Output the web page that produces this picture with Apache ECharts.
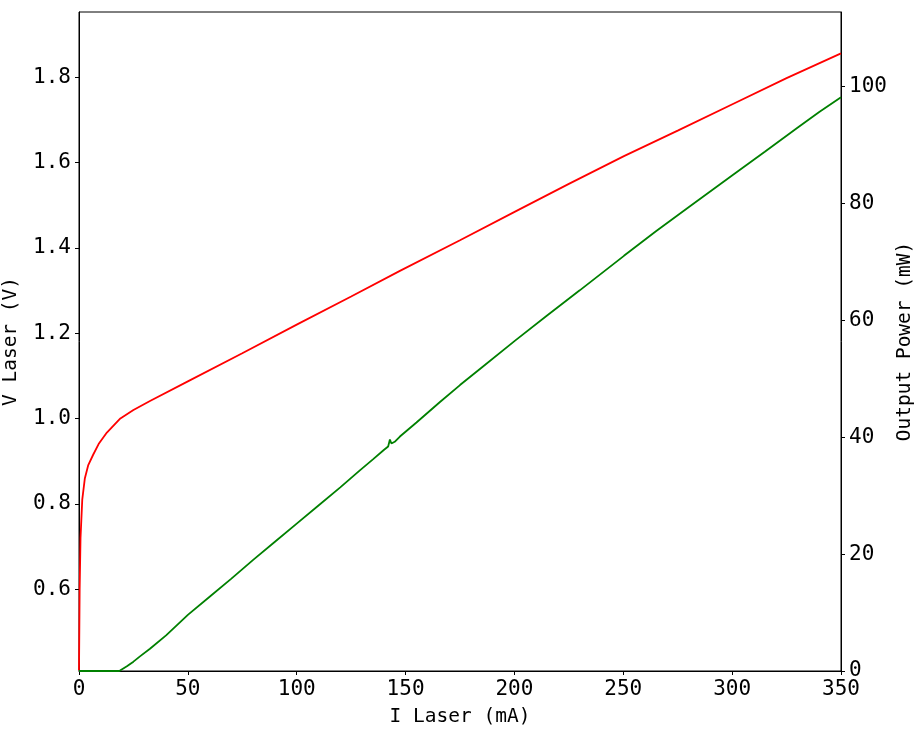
<!DOCTYPE html>
<html>
<head>
<meta charset="utf-8">
<script src="https://cdn.jsdelivr.net/npm/echarts@6/dist/echarts.min.js"></script>
<style>html,body{margin:0;padding:0;background:#fff;}#chart{width:923px;height:741px;}</style>
</head>
<body>
<div id="chart"></div>
<script>
// Voltage curve (red)
const vCurrent = [0, 0.3, 0.7, 1.5, 2.7, 4.2, 6.5, 9, 12.8, 19, 25, 32.6, 50, 75, 100, 125, 147.4, 175, 200.3, 225, 250.3, 275, 300.6, 325, 350];
const vValues  = [0.41, 0.6, 0.72, 0.81, 0.86, 0.89, 0.915, 0.94, 0.967, 1.0, 1.02, 1.041, 1.087, 1.153, 1.220, 1.286, 1.346, 1.418, 1.485, 1.550, 1.615, 1.675, 1.738, 1.798, 1.856];
// Output power curve (green)
const pCurrent = [0, 5, 10, 15, 18.5, 22, 25, 28, 32.6, 40, 50, 60, 70, 80, 90, 100, 110, 120, 129, 135, 140, 142, 142.8, 143.5, 145, 147.4, 155, 165.8, 175, 185, 200.3, 215, 230, 250.3, 265, 280, 300.6, 315, 330, 340, 350];
const pValues  = [0, 0, 0, 0, 0, 0.8, 1.6, 2.5, 3.8, 6.1, 9.6, 12.7, 15.8, 19.0, 22.1, 25.2, 28.3, 31.4, 34.3, 36.2, 37.8, 38.4, 39.6, 38.9, 39.2, 40.1, 42.5, 46.0, 48.9, 51.9, 56.5, 60.8, 65.1, 71.0, 75.2, 79.3, 84.9, 88.8, 92.9, 95.6, 98.1];
// Tick labels
const xTicks = [0, 50, 100, 150, 200, 250, 300, 350];
const leftTicks = [0.6, 0.8, 1.0, 1.2, 1.4, 1.6, 1.8];
const rightTicks = [0, 20, 40, 60, 80, 100];

const FONT = '"DejaVu Sans Mono", "Noto Sans CJK SC", monospace';
const chart = echarts.init(document.getElementById('chart'), null, {renderer: 'canvas'});
const axisCommon = {
  axisLine: {show: true, lineStyle: {color: '#000', width: 1}},
  splitLine: {show: false},
  nameMoveOverlap: false,
  nameTextStyle: {fontSize: 19.5, color: '#000', fontFamily: FONT}
};
chart.setOption({
  animation: false,
  backgroundColor: '#fff',
  grid: {left: 79, right: 82, top: 12, bottom: 70, containLabel: false, outerBoundsMode: 'none',
         show: true, borderColor: '#000', borderWidth: 1, backgroundColor: 'transparent'},
  xAxis: Object.assign({}, axisCommon, {
    type: 'value', min: 0, max: 350, interval: 50,
    name: 'I Laser (mA)', nameLocation: 'middle', nameGap: 36,
    axisTick: {show: true, inside: false, length: 4, lineStyle: {color: '#000'}, customValues: xTicks},
    axisLabel: {fontSize: 21, color: '#000', fontFamily: FONT, margin: 8, customValues: xTicks}
  }),
  yAxis: [
    Object.assign({}, axisCommon, {
      type: 'value', position: 'left', min: 0.408, max: 1.953,
      name: 'V Laser (V)', nameLocation: 'middle', nameGap: 58, nameRotate: 90,
      axisTick: {show: true, inside: false, length: 4, lineStyle: {color: '#000'}, customValues: leftTicks},
      axisLabel: {fontSize: 21, color: '#000', fontFamily: FONT, margin: 8, customValues: leftTicks,
        formatter: v => Number(v).toFixed(1)}
    }),
    Object.assign({}, axisCommon, {
      type: 'value', position: 'right', min: 0, max: 112.7,
      name: 'Output Power (mW)', nameLocation: 'middle', nameGap: 54, nameRotate: 90,
      axisTick: {show: true, inside: false, length: 4, lineStyle: {color: '#000'}, customValues: rightTicks},
      axisLabel: {fontSize: 21, color: '#000', fontFamily: FONT, margin: 8, customValues: rightTicks}
    })
  ],
  series: [
    {type: 'line', yAxisIndex: 0, showSymbol: false, symbol: 'none', smooth: false,
     lineStyle: {color: '#ff0000', width: 1.8}, itemStyle: {color: '#ff0000'},
     data: vCurrent.map((x, i) => [x, vValues[i]])},
    {type: 'line', yAxisIndex: 1, showSymbol: false, symbol: 'none', smooth: false,
     lineStyle: {color: '#008000', width: 1.8}, itemStyle: {color: '#008000'},
     data: pCurrent.map((x, i) => [x, pValues[i]])}
  ]
});
</script>
</body>
</html>
